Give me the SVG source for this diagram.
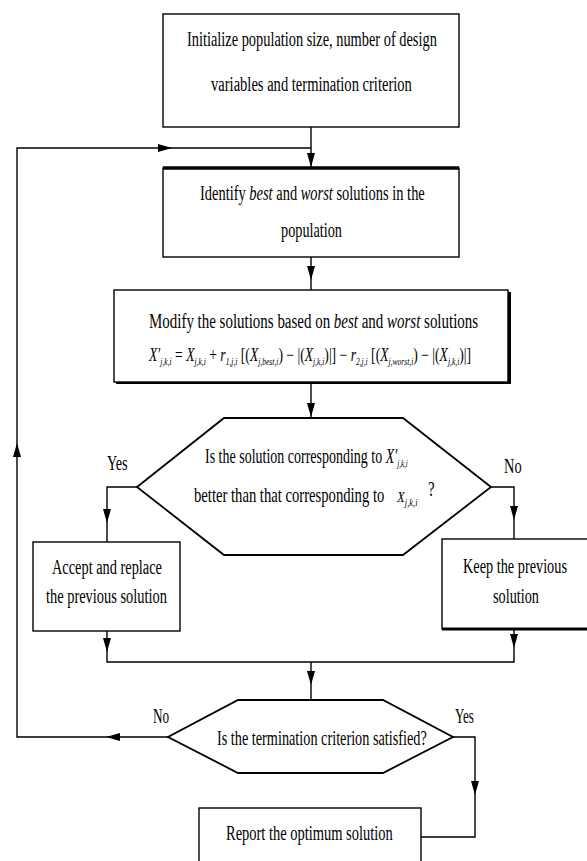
<svg xmlns="http://www.w3.org/2000/svg" xmlns:xlink="http://www.w3.org/1999/xlink" width="587" height="861" viewBox="0 0 587 861">
<style>
  .bx { fill: #fff; stroke: #000; stroke-width: 1.4; }
  .hx { fill: #fff; stroke: #000; stroke-width: 1.8; }
  .ln { fill: none; stroke: #000; stroke-width: 1.4; }
  .t { font-family: "Liberation Serif", "Times New Roman", serif; font-size: 20px; fill: #000; }
  .f { font-family: "Liberation Serif", "Times New Roman", serif; font-size: 18px; fill: #000; }
  .s { font-size: 10px; font-style: italic; }
  .i { font-style: italic; }
</style>
<defs>
  <path id="ah" d="M0,0 L-4,-14 L4,-14 Z" fill="#000"/>
</defs>
<rect width="587" height="861" fill="#fff"/>

<g id="connectors">
  <path class="ln" d="M311,127 V168"/>
  <path class="ln" d="M168,737 H17 V148 H311"/>
  <path class="ln" d="M311,257 V290"/>
  <path class="ln" d="M311,382 V418"/>
  <path class="ln" d="M137,487 H107 V542"/>
  <path class="ln" d="M491,487 H514 V539"/>
  <path class="ln" d="M107,631 V662 H514 V629"/>
  <path class="ln" d="M311,662 V700"/>
  <path class="ln" d="M453,737 H475 V837 H421"/>
  <use xlink:href="#ah" transform="translate(311,167)"/>
  <use xlink:href="#ah" transform="translate(172,148) rotate(-90)"/>
  <use xlink:href="#ah" transform="translate(311,280)"/>
  <use xlink:href="#ah" transform="translate(311,417)"/>
  <use xlink:href="#ah" transform="translate(107,523)"/>
  <use xlink:href="#ah" transform="translate(514,520)"/>
  <use xlink:href="#ah" transform="translate(107,652)"/>
  <use xlink:href="#ah" transform="translate(514,648)"/>
  <use xlink:href="#ah" transform="translate(311,685)"/>
  <use xlink:href="#ah" transform="translate(106,737) rotate(90)"/>
  <use xlink:href="#ah" transform="translate(17,443) rotate(180)"/>
  <use xlink:href="#ah" transform="translate(475,795)"/>
  <text class="t" transform="translate(107,470) scale(0.71,1)">Yes</text>
  <text class="t" transform="translate(504,473) scale(0.72,1)">No</text>
  <text class="t" transform="translate(153,723) scale(0.66,1)">No</text>
  <text class="t" transform="translate(455,723) scale(0.65,1)">Yes</text>
</g>

<g id="init">
  <rect class="bx" x="163" y="14" width="296" height="113"/>
  <text class="t" transform="translate(187,46) scale(0.719,1)">Initialize population size, number of design</text>
  <text class="t" transform="translate(211,91) scale(0.728,1)">variables and termination criterion</text>
</g>

<g id="identify">
  <rect class="bx" x="163" y="168" width="296" height="89"/>
  <path d="M163,168 H459" stroke="#000" stroke-width="3.5"/>
  <text class="t" transform="translate(200,200) scale(0.723,1)">Identify <tspan class="i">best</tspan> and <tspan class="i">worst</tspan> solutions in the</text>
  <text class="t" transform="translate(281,237) scale(0.713,1)">population</text>
</g>

<g id="modify">
  <rect x="116" y="292" width="395" height="92" fill="#000"/>
  <rect class="bx" x="114" y="290" width="394" height="92"/>
  <text class="t" transform="translate(149,328) scale(0.748,1)">Modify the solutions based on <tspan class="i">best</tspan> and <tspan class="i">worst</tspan> solutions</text>
  <text class="f" transform="translate(149,361) scale(0.757,1)"><tspan class="i">X′</tspan><tspan class="s" dy="4">j,k,i</tspan><tspan dy="-4"> = </tspan><tspan class="i">X</tspan><tspan class="s" dy="4">j,k,i</tspan><tspan dy="-4"> + </tspan><tspan class="i">r</tspan><tspan class="s" dy="4">1,j,i</tspan><tspan dy="-4"> [(</tspan><tspan class="i">X</tspan><tspan class="s" dy="4">j,best,i</tspan><tspan dy="-4">) − |(</tspan><tspan class="i">X</tspan><tspan class="s" dy="4">j,k,i</tspan><tspan dy="-4">)|] − </tspan><tspan class="i">r</tspan><tspan class="s" dy="4">2,j,i</tspan><tspan dy="-4"> [(</tspan><tspan class="i">X</tspan><tspan class="s" dy="4">j,worst,i</tspan><tspan dy="-4">) − |(</tspan><tspan class="i">X</tspan><tspan class="s" dy="4">j,k,i</tspan><tspan dy="-4">)|]</tspan></text>
</g>

<g id="compare">
  <polygon class="hx" points="224,418 403,418 491,487 403,555 224,555 137,487"/>
  <text class="t" transform="translate(205,463) scale(0.70,1)">Is the solution corresponding to <tspan class="i">X′</tspan><tspan class="s" dy="4">j,k,i</tspan></text>
  <text class="t" transform="translate(194,502) scale(0.733,1)">better than that corresponding to</text>
  <text class="t" transform="translate(397,502) scale(0.85,1)"><tspan class="i" font-size="15">X</tspan><tspan class="s" dy="4">j,k,i</tspan></text>
  <text class="t" transform="translate(428,496) scale(0.75,1)">?</text>
</g>

<g id="accept">
  <rect class="bx" x="33" y="542" width="147" height="89"/>
  <text class="t" transform="translate(52,574) scale(0.718,1)">Accept and replace</text>
  <text class="t" transform="translate(46,603) scale(0.721,1)">the previous solution</text>
</g>

<g id="keep">
  <rect class="bx" x="442" y="539" width="160" height="90"/>
  <path d="M442,629 H587" stroke="#000" stroke-width="3"/>
  <text class="t" transform="translate(463,573) scale(0.715,1)">Keep the previous</text>
  <text class="t" transform="translate(493,603) scale(0.713,1)">solution</text>
</g>

<g id="terminate">
  <polygon class="hx" points="238,700 383,700 453,737 383,773 238,773 168,737"/>
  <text class="t" transform="translate(217,745) scale(0.713,1)">Is the termination criterion satisfied?</text>
</g>

<g id="report">
  <rect class="bx" x="199" y="808" width="222" height="70"/>
  <text class="t" transform="translate(226,840) scale(0.724,1)">Report the optimum solution</text>
</g>
</svg>
